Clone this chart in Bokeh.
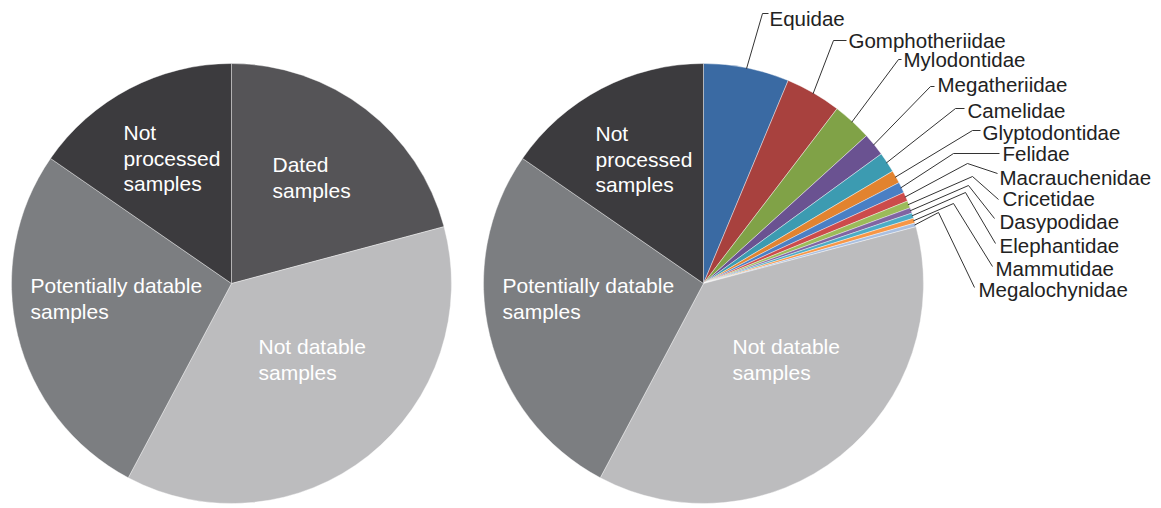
import math
from bokeh.plotting import figure
from bokeh.models import Range1d
from bokeh.core.properties import value
from bokeh.embed import file_html
from bokeh.resources import INLINE

# ---------------- data ----------------
families = ["Equidae", "Gomphotheriidae", "Mylodontidae", "Megatheriidae",
            "Camelidae", "Glyptodontidae", "Felidae", "Macrauchenidae",
            "Cricetidae", "Dasypodidae", "Elephantidae", "Mammutidae",
            "Megalochynidae"]
family_values = [6.3, 4.1, 2.9, 1.7, 1.5, 0.95, 0.8, 0.67, 0.53, 0.40, 0.39, 0.36, 0.28]
family_colors = ["#3a6aa3", "#a8413e", "#80a247", "#6a5291", "#3c9bb1", "#e2832f",
                 "#4a7fc4", "#cc4b4b", "#9bbb59", "#8064a2", "#4bacc6", "#f79646",
                 "#a9bfe0"]

other_groups = ["Not datable samples", "Potentially datable samples", "Not processed samples"]
other_values = [37.0, 26.9, 15.4]
other_colors = ["#bcbcbe", "#7c7e81", "#3c3b3e"]

dated_label = "Dated samples"
dated_value = sum(family_values)
dated_color = "#555457"

left_values = [dated_value] + other_values
left_colors = [dated_color] + other_colors
right_values = family_values + other_values
right_colors = family_colors + other_colors

# label texts (split into lines)
left_label_lines = [["Dated", "samples"], ["Not datable", "samples"],
                    ["Potentially datable", "samples"], ["Not", "processed", "samples"]]
right_label_lines = [["Not datable", "samples"], ["Potentially datable", "samples"],
                     ["Not", "processed", "samples"]]

# ---------------- layout (pixel positions in page) ----------------
W, H = 1161, 508
R = 220
left_center = (231, 283)
right_center = (703, 283)

left_label_pos = [(272, 164), (258, 346), (30, 285), (123, 132)]
right_label_pos = [(732, 346), (502, 285), (595, 133)]
line_gap = 25.5

# family labels: text anchor (left, middle) and leader elbow points
fam_text_pos = [(769, 18), (848, 40), (903, 59), (937, 84), (967, 110), (982, 132),
                (1002, 153), (999, 177), (1002, 198), (999, 221), (999, 245),
                (995, 268), (978, 289)]
fam_elbow = [(762, 13), (833, 40), (898, 59), (930, 86), (955, 108), (972, 130),
             (953, 153), (967, 163), (972, 176), (968, 185), (965, 192),
             (953, 203), (938, 212)]
fam_end = [(768, 13), (846, 40), (901, 59), (934, 86), (964, 108), (980, 130),
           (999, 153), (997, 173), (998, 199), (994, 218), (995, 243),
           (992, 266), (974, 287)]


def to_data(x, y):
    return x, H - y


p = figure(width=W, height=H, x_range=Range1d(0, W), y_range=Range1d(0, H),
           output_backend="svg", toolbar_location=None, min_border=0)
p.axis.visible = False
p.grid.visible = False
p.outline_line_color = None
p.background_fill_color = "white"
p.border_fill_color = "white"


def draw_pie(center, values, colors):
    cx, cy = to_data(*center)
    total = sum(values)
    cum = 0.0
    starts, ends, mids = [], [], []
    for v in values:
        a0 = math.pi / 2 - 2 * math.pi * cum / total
        cum += v
        a1 = math.pi / 2 - 2 * math.pi * cum / total
        starts.append(a0)
        ends.append(a1)
        mids.append((a0 + a1) / 2)
    p.wedge(x=[cx] * len(values), y=[cy] * len(values), radius=R, radius_units="screen",
            start_angle=starts, end_angle=ends, direction="clock",
            fill_color=colors, line_color="white", line_width=0.4)
    return mids


draw_pie(left_center, left_values, left_colors)
mids = draw_pie(right_center, right_values, right_colors)

FONT = value("Liberation Sans")


def draw_lines(label_lines, positions):
    for lines, (x, y) in zip(label_lines, positions):
        for i, t in enumerate(lines):
            dx, dy = to_data(x, y + i * line_gap)
            p.text(x=[dx], y=[dy], text=[t], text_font=FONT, text_font_size="21px",
                   text_color="white", text_align="left", text_baseline="middle")


draw_lines(left_label_lines, left_label_pos)
draw_lines(right_label_lines, right_label_pos)

# family leaders and labels
rcx, rcy = to_data(*right_center)
xs, ys = [], []
for i, name in enumerate(families):
    a = mids[i]
    sx = rcx + (R - 1) * math.cos(a)
    sy = rcy + (R - 1) * math.sin(a)
    ex, ey = to_data(*fam_elbow[i])
    fx, fy = to_data(*fam_end[i])
    xs.append([sx, ex, fx])
    ys.append([sy, ey, fy])
p.multi_line(xs=xs, ys=ys, line_color="#333333", line_width=1)

tx = [to_data(*pt)[0] for pt in fam_text_pos]
ty = [to_data(*pt)[1] for pt in fam_text_pos]
p.text(x=tx, y=ty, text=families, text_font=FONT, text_font_size="20.5px",
       text_color="#222222", text_align="left", text_baseline="middle")

open("out.html", "w").write(file_html(p, INLINE))
